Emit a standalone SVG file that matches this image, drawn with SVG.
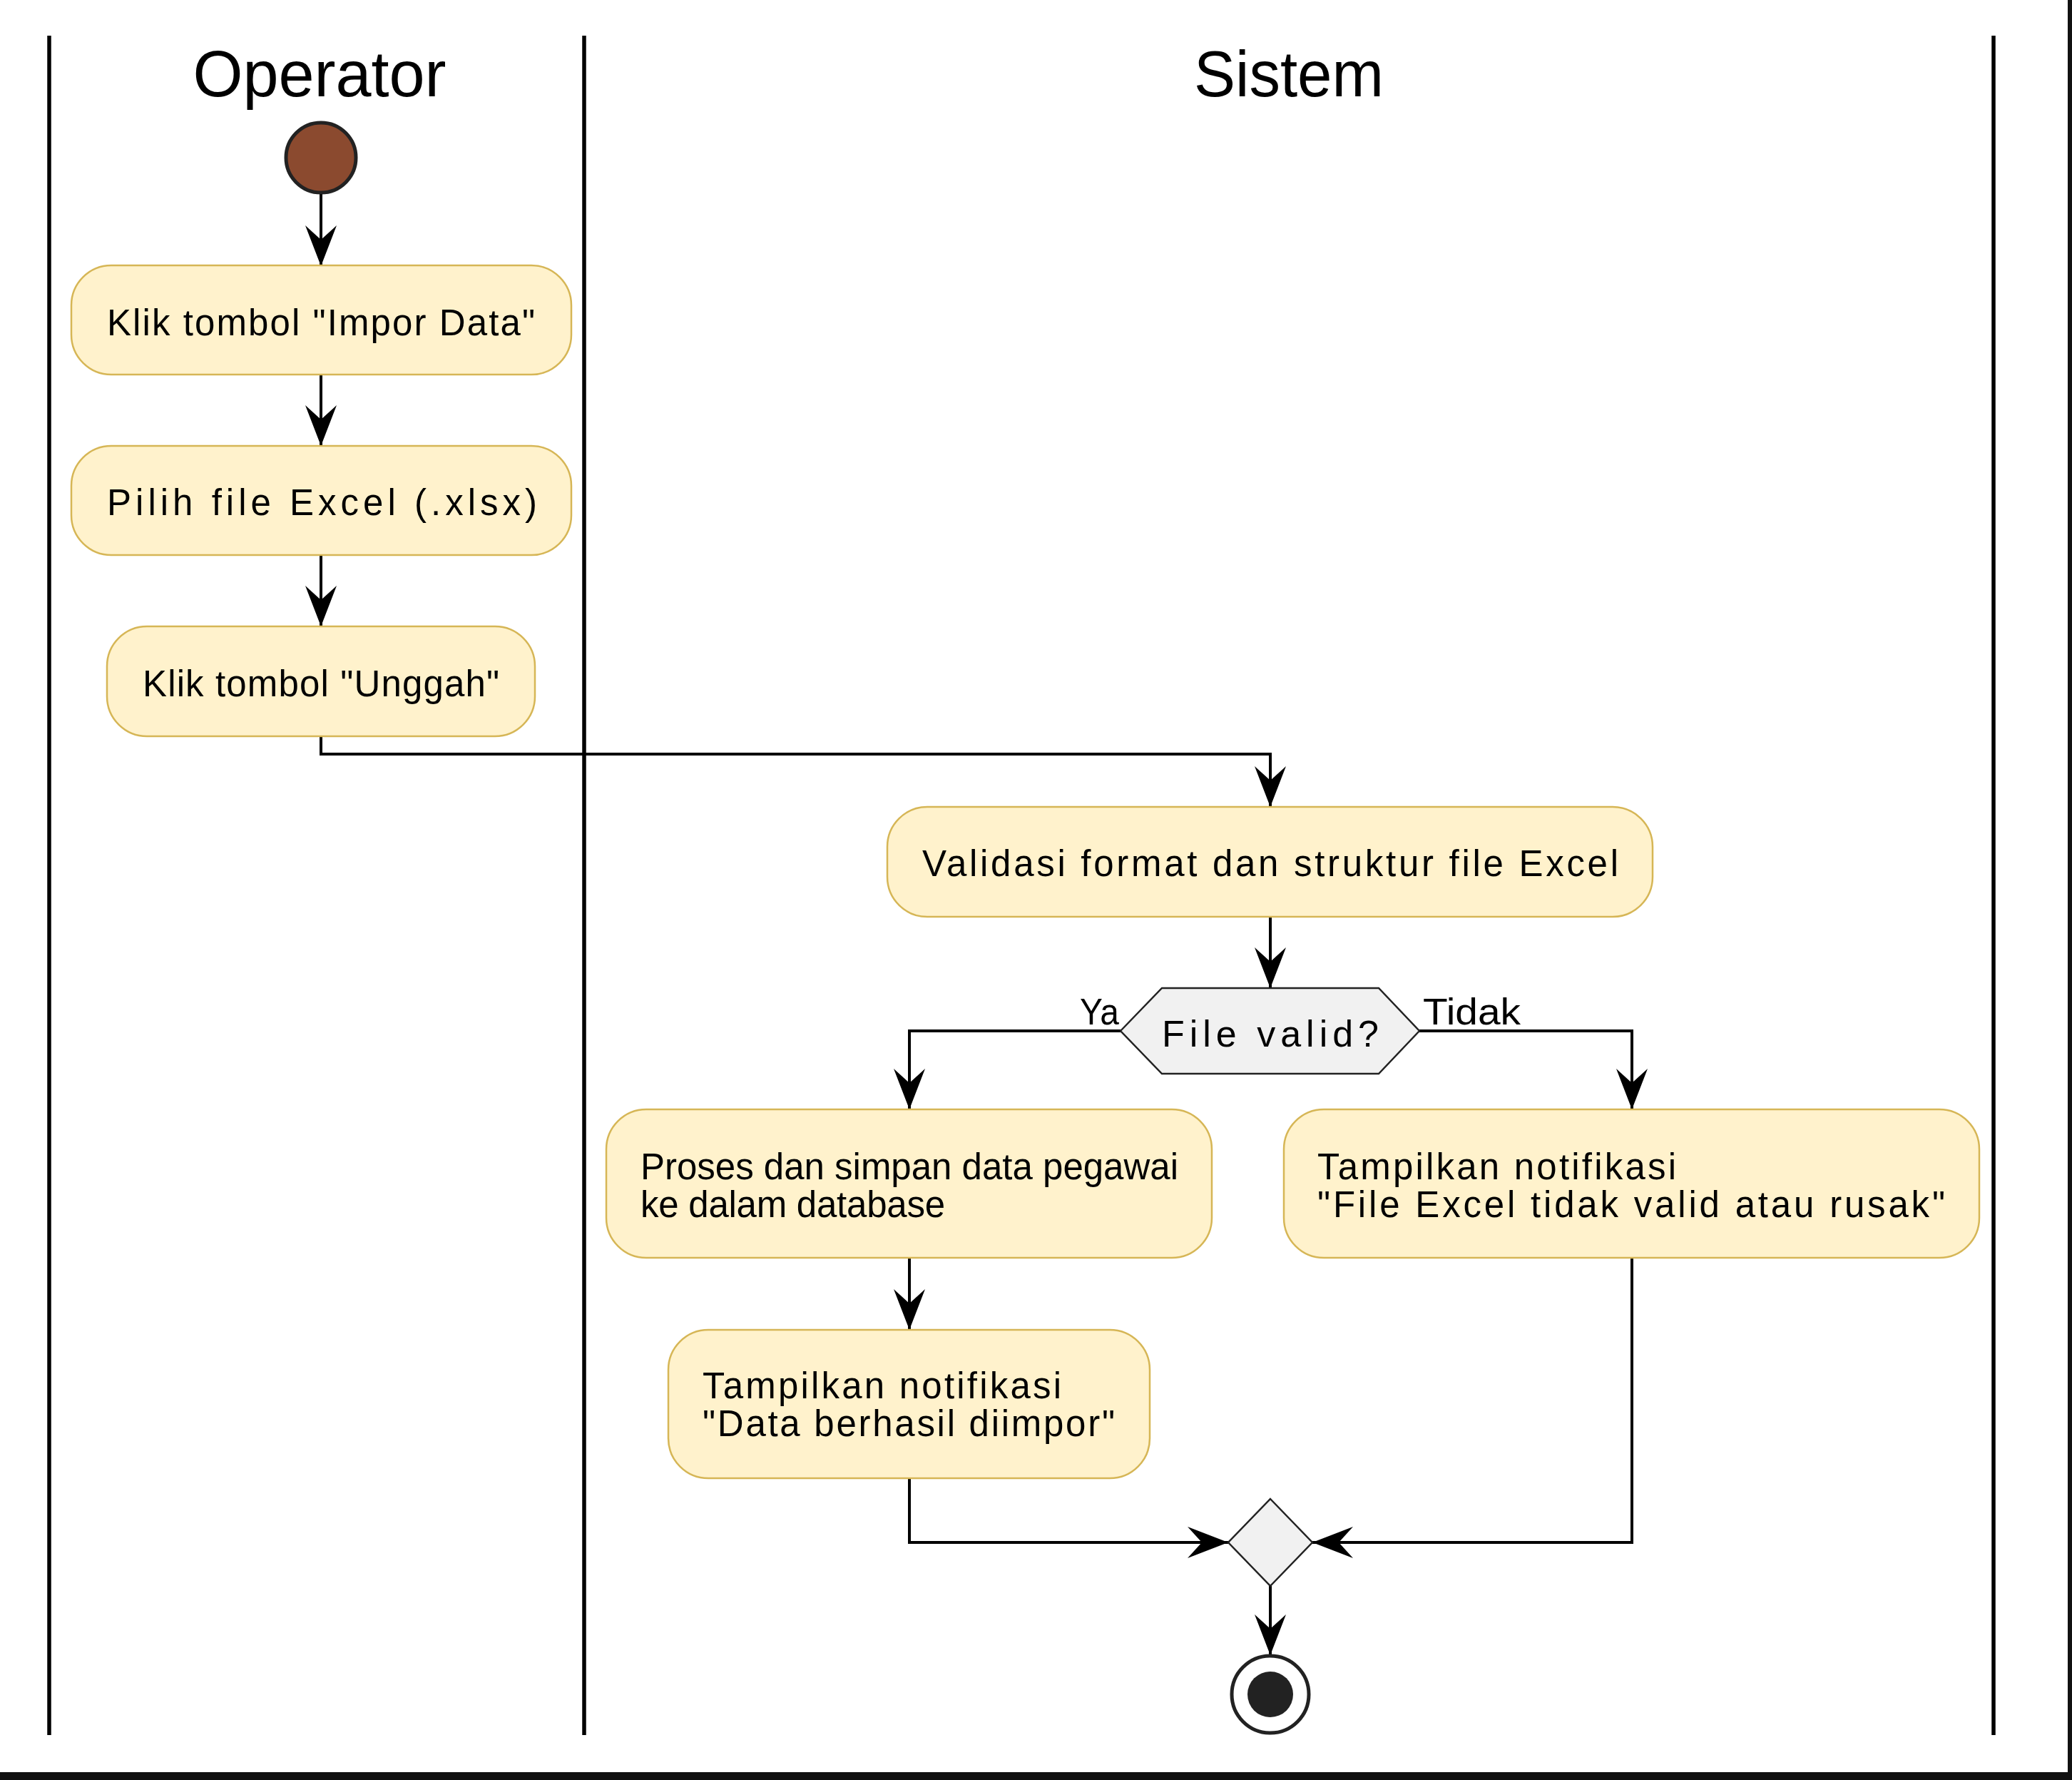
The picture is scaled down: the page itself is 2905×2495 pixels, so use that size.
<svg xmlns="http://www.w3.org/2000/svg" width="2905" height="2495" viewBox="0 0 2905 2495">
<style>
.lane{stroke:#000;stroke-width:5.5;fill:none}
.title{font-family:"Liberation Sans",Arial,sans-serif;font-size:90px;fill:#000}
.act{fill:#FFF2CC;stroke:#D6B656;stroke-width:2.5}
.txt{font-family:"Liberation Sans",Arial,sans-serif;font-size:51px;fill:#000}
.lbl{font-family:"Liberation Sans",Arial,sans-serif;font-size:52px;fill:#000}
.dec{fill:#F1F1F1;stroke:#222;stroke-width:2.5}
.con{fill:none;stroke:#000;stroke-width:4}
</style>
<defs>
<marker id="arr" markerUnits="userSpaceOnUse" markerWidth="60" markerHeight="60" refX="0" refY="0" orient="auto" overflow="visible">
<path d="M0,0 L-57,-22 L-37,0 L-57,22 Z" fill="#000"/>
</marker>
</defs>
<rect x="0" y="0" width="2905" height="2495" fill="#fff"/>
<rect x="0" y="2484" width="2905" height="11" fill="#111"/>
<rect x="2899" y="0" width="6" height="2495" fill="#111"/>
<g id="lanes">
<line class="lane" x1="69" y1="50" x2="69" y2="2432"/>
<line class="lane" x1="819" y1="50" x2="819" y2="2432"/>
<line class="lane" x1="2795" y1="50" x2="2795" y2="2432"/>
<text class="title" x="448" y="135" text-anchor="middle">Operator</text>
<text class="title" x="1807" y="135" text-anchor="middle" textLength="266" lengthAdjust="spacingAndGlyphs">Sistem</text>
</g>
<g id="connectors">
<path class="con" d="M450,272 L450,373" marker-end="url(#arr)"/>
<path class="con" d="M450,525 L450,625" marker-end="url(#arr)"/>
<path class="con" d="M450,778 L450,878" marker-end="url(#arr)"/>
<path class="con" d="M450,1032 L450,1057 L1781,1057 L1781,1131" marker-end="url(#arr)"/>
<path class="con" d="M1781,1285 L1781,1385" marker-end="url(#arr)"/>
<path class="con" d="M1571,1445 L1275,1445 L1275,1555" marker-end="url(#arr)"/>
<path class="con" d="M1990,1445 L2288,1445 L2288,1555" marker-end="url(#arr)"/>
<path class="con" d="M1275,1763 L1275,1864" marker-end="url(#arr)"/>
<path class="con" d="M1275,2072 L1275,2162 L1722,2162" marker-end="url(#arr)"/>
<path class="con" d="M2288,1763 L2288,2162 L1840,2162" marker-end="url(#arr)"/>
<path class="con" d="M1781,2223 L1781,2320" marker-end="url(#arr)"/>
<text class="lbl" x="1514" y="1436" textLength="55" lengthAdjust="spacingAndGlyphs">Ya</text>
<text class="lbl" x="1995" y="1436" textLength="137" lengthAdjust="spacingAndGlyphs">Tidak</text>
</g>
<g id="start">
<circle cx="450" cy="221" r="49" fill="#8B4A2F" stroke="#222" stroke-width="5"/>
</g>
<g id="klik-impor">
<rect class="act" x="100" y="372" width="701" height="153" rx="56" ry="56"/>
<text class="txt" x="150" y="470" textLength="600" lengthAdjust="spacing">Klik tombol "Impor Data"</text>
</g>
<g id="pilih-file">
<rect class="act" x="100" y="625" width="701" height="153" rx="56" ry="56"/>
<text class="txt" x="150" y="722" textLength="603" lengthAdjust="spacing">Pilih file Excel (.xlsx)</text>
</g>
<g id="klik-unggah">
<rect class="act" x="150" y="878" width="600" height="154" rx="56" ry="56"/>
<text class="txt" x="200" y="976" textLength="500" lengthAdjust="spacing">Klik tombol "Unggah"</text>
</g>
<g id="validasi">
<rect class="act" x="1244" y="1131" width="1073" height="154" rx="56" ry="56"/>
<text class="txt" x="1293" y="1228" textLength="976" lengthAdjust="spacing">Validasi format dan struktur file Excel</text>
</g>
<g id="file-valid">
<polygon class="dec" points="1571,1445 1629,1385 1933,1385 1990,1445 1933,1505 1629,1505"/>
<text class="lbl" x="1629" y="1467" textLength="304" lengthAdjust="spacing">File valid?</text>
</g>
<g id="proses">
<rect class="act" x="850" y="1555" width="849" height="208" rx="56" ry="56"/>
<text class="txt" x="898" y="1653" textLength="754" lengthAdjust="spacing">Proses dan simpan data pegawai</text>
<text class="txt" x="898" y="1706" textLength="427" lengthAdjust="spacing">ke dalam database</text>
</g>
<g id="notif-berhasil">
<rect class="act" x="937" y="1864" width="675" height="208" rx="56" ry="56"/>
<text class="txt" x="985" y="1960" textLength="503" lengthAdjust="spacing">Tampilkan notifikasi</text>
<text class="txt" x="985" y="2013" textLength="578" lengthAdjust="spacing">"Data berhasil diimpor"</text>
</g>
<g id="notif-gagal">
<rect class="act" x="1800" y="1555" width="975" height="208" rx="56" ry="56"/>
<text class="txt" x="1847" y="1653" textLength="503" lengthAdjust="spacing">Tampilkan notifikasi</text>
<text class="txt" x="1847" y="1706" textLength="880" lengthAdjust="spacing">"File Excel tidak valid atau rusak"</text>
</g>
<g id="merge">
<polygon class="dec" points="1781,2101 1840,2162 1781,2223 1722,2162"/>
</g>
<g id="end">
<circle cx="1781" cy="2375" r="54" fill="#fff" stroke="#222" stroke-width="5"/>
<circle cx="1781" cy="2375" r="32" fill="#222"/>
</g>
</svg>
